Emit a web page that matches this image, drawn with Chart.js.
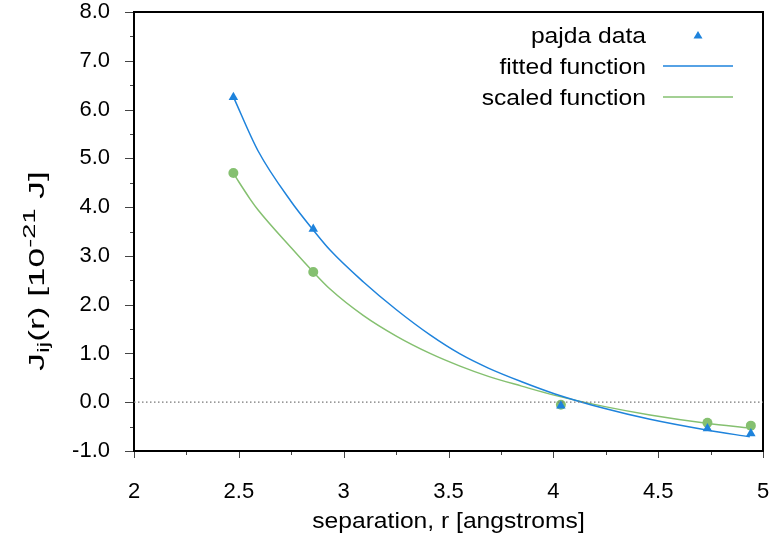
<!DOCTYPE html>
<html>
<head>
<meta charset="utf-8">
<script src="https://cdn.jsdelivr.net/npm/chart.js@4/dist/chart.umd.min.js"></script>
<style>
  html, body { margin: 0; padding: 0; background: #fff; }
  #wrap { width: 775px; height: 541px; }
</style>
</head>
<body>
<div id="wrap"><canvas id="jchart" width="775" height="541"></canvas></div>
<script>
// measured points (separation in angstroms, J in 1e-21 J)
const rData = [2.474, 2.855, 4.036, 4.735, 4.942];
const pajdaJ = [6.25, 3.55, -0.07, -0.54, -0.64];
const scaledJ = [4.70, 2.67, -0.05, -0.42, -0.48];

// curves
const fitR = [2.474, 2.592, 2.750, 2.855, 2.935, 3.093, 3.253, 3.412, 3.555, 3.690, 3.849, 4.008, 4.246, 4.461, 4.731, 4.937];
const fitJ = [6.26, 5.15, 4.11, 3.53, 3.12, 2.47, 1.89, 1.38, 0.99, 0.70, 0.42, 0.17, -0.13, -0.35, -0.57, -0.71];
const scaledR = [2.474, 2.553, 2.592, 2.751, 2.855, 2.935, 3.093, 3.253, 3.412, 3.555, 3.690, 3.849, 4.008, 4.246, 4.461, 4.731, 4.937];
const scaledFitJ = [4.69, 4.17, 3.94, 3.16, 2.67, 2.32, 1.78, 1.35, 1.00, 0.74, 0.53, 0.33, 0.14, -0.09, -0.26, -0.43, -0.53];

const zeroR = [2, 5];
const zeroJ = [0, 0];

const xTickLabels = ['2', '2.5', '3', '3.5', '4', '4.5', '5'];

const blue = '#1e83dc';
const green = '#85c070';
const FONT = '"Liberation Sans", Arial, Helvetica, sans-serif';

const pts = (xs, ys) => xs.map((x, i) => ({ x: x, y: ys[i] }));

function stretchText(ctx, txt, x, y, sx, align) {
  ctx.save();
  ctx.translate(x, y);
  ctx.scale(sx, 1);
  ctx.textAlign = align;
  ctx.fillText(txt, 0, 0);
  ctx.restore();
}

// frame, outside ticks, titles and the legend
const decor = {
  id: 'decor',
  beforeDatasetsDraw(chart) {
    const { ctx, chartArea: a, scales: { x, y } } = chart;
    ctx.save();
    ctx.strokeStyle = '#444';
    ctx.lineWidth = 1;
    for (let i = 0; i <= 12; i++) {
      const v = 2 + i * 0.25;
      const px = Math.round(x.getPixelForValue(v)) + 0.5;
      const len = i % 2 === 0 ? 7 : 4;
      ctx.beginPath();
      ctx.moveTo(px, a.bottom);
      ctx.lineTo(px, a.bottom + len);
      ctx.stroke();
    }
    for (let i = 0; i <= 18; i++) {
      const v = -1 + i * 0.5;
      const py = Math.round(y.getPixelForValue(v)) + 0.5;
      const len = i % 2 === 0 ? 9 : 4;
      ctx.beginPath();
      ctx.moveTo(a.left - len, py);
      ctx.lineTo(a.left, py);
      ctx.stroke();
    }
    ctx.strokeStyle = '#000';
    ctx.lineWidth = 2;
    ctx.strokeRect(a.left, a.top, a.right - a.left, a.bottom - a.top);
    ctx.restore();
  },
  afterDraw(chart) {
    const { ctx, chartArea: a } = chart;
    const sx = 1.12;
    ctx.save();
    ctx.fillStyle = '#000';
    ctx.textBaseline = 'alphabetic';

    // x title
    ctx.font = '22px ' + FONT;
    stretchText(ctx, 'separation, r [angstroms]', (a.left + a.right) / 2, 528, sx, 'center');

    // y title, built piece by piece for the sub/superscripts
    const parts = [
      ['J', 22, 0], ['ij', 16, 5], ['(r) [10', 22, 0], ['-21', 17, -9], [' J]', 22, 0]
    ];
    const ts = 1.6;
    let total = 0;
    parts.forEach(p => { ctx.font = p[1] + 'px ' + FONT; total += ctx.measureText(p[0]).width * ts; });
    ctx.save();
    ctx.translate(44, 271);
    ctx.rotate(-Math.PI / 2);
    let cx = -total / 2;
    parts.forEach(p => {
      ctx.font = p[1] + 'px ' + FONT;
      const w = ctx.measureText(p[0]).width * ts;
      stretchText(ctx, p[0], cx, p[2], ts, 'left');
      cx += w;
    });
    ctx.restore();

    // legend
    const rows = [
      { label: 'pajda data', y: 35, kind: 'tri' },
      { label: 'fitted function', y: 66, kind: 'line', color: blue },
      { label: 'scaled function', y: 97, kind: 'line', color: green }
    ];
    ctx.font = '22px ' + FONT;
    ctx.textBaseline = 'middle';
    rows.forEach(r => {
      ctx.fillStyle = '#000';
      stretchText(ctx, r.label, 646, r.y + 2, sx, 'right');
      if (r.kind === 'tri') {
        ctx.fillStyle = blue;
        ctx.beginPath();
        ctx.moveTo(698, r.y - 4);
        ctx.lineTo(702.5, r.y + 3.5);
        ctx.lineTo(693.5, r.y + 3.5);
        ctx.closePath();
        ctx.fill();
      } else {
        ctx.strokeStyle = r.color;
        ctx.lineWidth = 1.5;
        ctx.beginPath();
        ctx.moveTo(663, r.y);
        ctx.lineTo(733, r.y);
        ctx.stroke();
      }
    });
    ctx.restore();
  }
};

const ctx = document.getElementById('jchart').getContext('2d');
const chart = new Chart(ctx, {
  type: 'scatter',
  data: {
    datasets: [
      {
        label: 'zero',
        data: pts(zeroR, zeroJ),
        showLine: true,
        borderColor: '#777',
        borderWidth: 1.2,
        borderDash: [1.5, 2.5],
        pointRadius: 0
      },
      {
        label: 'fitted function',
        data: pts(fitR, fitJ),
        showLine: true,
        borderColor: blue,
        borderWidth: 1.5,
        pointRadius: 0,
        cubicInterpolationMode: 'monotone'
      },
      {
        label: 'pajda data',
        data: pts(rData, pajdaJ),
        pointStyle: 'triangle',
        pointRadius: 5.5,
        backgroundColor: blue,
        borderColor: blue,
        borderWidth: 0
      },
      {
        label: 'scaled function',
        data: pts(scaledR, scaledFitJ),
        showLine: true,
        borderColor: green,
        borderWidth: 1.5,
        pointRadius: 0,
        cubicInterpolationMode: 'monotone'
      },
      {
        label: 'scaled data',
        data: pts(rData, scaledJ),
        pointStyle: 'circle',
        pointRadius: 5,
        backgroundColor: green,
        borderColor: green,
        borderWidth: 0
      }
    ]
  },
  options: {
    responsive: false,
    animation: false,
    devicePixelRatio: 1,
    layout: { padding: { top: 12, right: 12, left: 0, bottom: 0 } },
    plugins: {
      legend: { display: false },
      tooltip: { enabled: false }
    },
    scales: {
      x: {
        type: 'linear',
        min: 2,
        max: 5,
        grid: { display: false, drawTicks: false },
        border: { display: false },
        ticks: {
          stepSize: 0.5,
          padding: 28,
          color: '#000',
          font: { size: 22, family: FONT },
          callback: (v, i) => xTickLabels[i]
        },
        afterFit: s => {
          s.height = 90;
          s.paddingLeft = 0;
          s.paddingRight = 0;
        }
      },
      y: {
        min: -1,
        max: 8,
        grid: { display: false, drawTicks: false },
        border: { display: false },
        ticks: {
          stepSize: 1,
          padding: 24,
          color: '#000',
          font: { size: 22, family: FONT },
          callback: v => v.toFixed(1)
        },
        afterFit: s => {
          s.width = 134;
          s.paddingTop = 0;
          s.paddingBottom = 0;
        }
      }
    }
  },
  plugins: [decor]
});
</script>
</body>
</html>
